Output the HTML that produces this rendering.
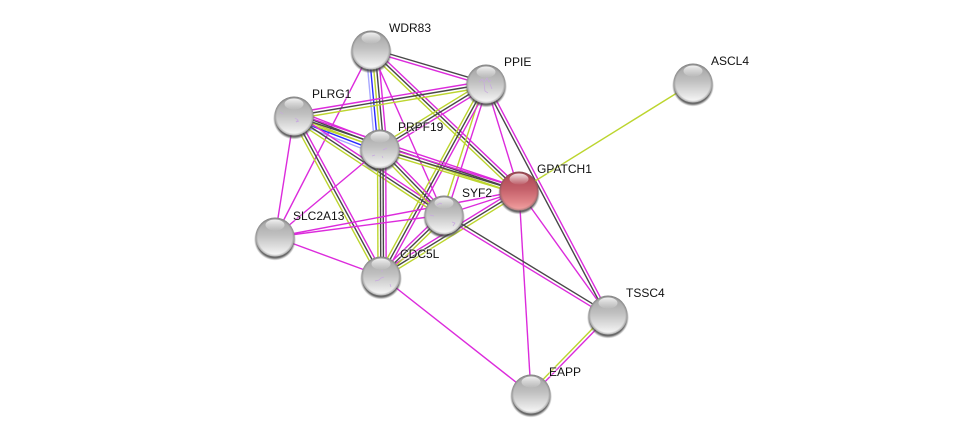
<!DOCTYPE html>
<html><head><meta charset="utf-8"><style>
html,body{margin:0;padding:0;background:#fff}
svg{display:block}
text{font:12px "Liberation Sans",sans-serif;fill:#111;stroke:#fff;stroke-opacity:.4;stroke-width:2px;paint-order:stroke}
.m,.k,.y,.b,.l{fill:none;stroke-width:1.4}
.m{stroke:#dc2bdc}.k{stroke:#484848}.y{stroke:#bcd52e}.b{stroke:#2a2aff}.l{stroke:#a8a8ff}
.q{fill:none;stroke:#c8a8e0;stroke-width:.7}
</style></head><body>
<svg width="975" height="439" viewBox="0 0 975 439" xmlns="http://www.w3.org/2000/svg">
<defs>
<linearGradient id="g" x1="0" y1="0" x2="0" y2="1"><stop offset="0" stop-color="#a0a0a0"/><stop offset=".45" stop-color="#c0c0c0"/><stop offset=".78" stop-color="#e2e2e2"/><stop offset="1" stop-color="#fbfbfb"/></linearGradient>
<linearGradient id="r" x1="0" y1="0" x2="0" y2="1"><stop offset="0" stop-color="#a84450"/><stop offset=".45" stop-color="#c4606a"/><stop offset=".78" stop-color="#e08488"/><stop offset="1" stop-color="#f4a4a4"/></linearGradient>
<radialGradient id="e" cx=".5" cy=".5" r=".5"><stop offset=".88" stop-color="#555" stop-opacity="0"/><stop offset="1" stop-color="#555" stop-opacity=".45"/></radialGradient>
<linearGradient id="h" x1="0" y1="0" x2="0" y2="1"><stop offset="0" stop-color="#fff" stop-opacity=".85"/><stop offset="1" stop-color="#fff" stop-opacity=".05"/></linearGradient>
<radialGradient id="s" cx=".5" cy=".5" r=".5"><stop offset=".88" stop-color="#444" stop-opacity=".8"/><stop offset="1" stop-color="#777" stop-opacity="0"/></radialGradient>
<g id="n"><circle cx="0" cy="2.5" r="21" fill="url(#s)"/><circle r="19.5" fill="url(#g)"/><circle r="19.5" fill="url(#e)"/><ellipse cx="0" cy="-12" rx="9.5" ry="5.5" fill="url(#h)"/></g>
<g id="n2"><circle cx="0" cy="2.5" r="21" fill="url(#s)"/><circle r="19.5" fill="url(#r)"/><circle r="19.5" fill="url(#e)"/><ellipse cx="0" cy="-12" rx="9.5" ry="5.5" fill="url(#h)"/></g>
</defs>

<path class="k" d="M371.4 48.6L486.4 82.6"/><path class="m" d="M370.6 51.4L485.6 85.4"/>
<path class="m" d="M371 50L275 237"/>
<path class="l" d="M366 50L375 149"/><path class="b" d="M369 50L378 149"/><path class="y" d="M372 50L381 149"/><path class="k" d="M375 50L384 149"/><path class="m" d="M378 50L387 149"/>
<path class="m" d="M373 47.8L521 188.8"/><path class="k" d="M371 50L519 191"/><path class="y" d="M369 52.2L517 193.2"/>
<path class="m" d="M371 50L444 215"/>
<path class="m" d="M485.5 81L293.5 113"/><path class="k" d="M486 84L294 116"/><path class="y" d="M486.5 87L294.5 119"/>
<path class="y" d="M484.45 81.45L378.45 146.45"/><path class="k" d="M486 84L380 149"/><path class="m" d="M487.55 86.55L381.55 151.55"/>
<path class="m" d="M486 84L519 191"/>
<path class="m" d="M487.3 83.3L609.3 314.3"/><path class="k" d="M484.7 84.7L606.7 315.7"/>
<path class="y" d="M484 83.4L442 214.4"/><path class="m" d="M488 84.6L446 215.6"/>
<path class="y" d="M483.4 82.6L378.4 274.6"/><path class="k" d="M486 84L381 276"/><path class="m" d="M488.6 85.4L383.6 277.4"/>
<path class="m" d="M296.1 110.4L382.1 143.4"/><path class="k" d="M295.1 113.2L381.1 146.2"/><path class="y" d="M294 116L380 149"/><path class="b" d="M292.9 118.8L378.9 151.8"/><path class="l" d="M291.9 121.6L377.9 154.6"/>
<path class="m" d="M294.95 113.15L519.95 188.15"/><path class="k" d="M294 116L519 191"/><path class="y" d="M293.05 118.85L518.05 193.85"/>
<path class="m" d="M295.65 113.5L445.65 212.5"/><path class="k" d="M294 116L444 215"/><path class="y" d="M292.35 118.5L442.35 217.5"/>
<path class="y" d="M291.4 117.4L378.4 277.4"/><path class="k" d="M294 116L381 276"/><path class="m" d="M296.6 114.6L383.6 274.6"/>
<path class="m" d="M294 116L275 237"/>
<path class="m" d="M380.87 146.15L519.87 188.15"/><path class="k" d="M380 149L519 191"/><path class="y" d="M379.13 151.85L518.13 193.85"/>
<path class="m" d="M382.15 146.9L446.15 212.9"/><path class="k" d="M380 149L444 215"/><path class="y" d="M377.85 151.1L441.85 217.1"/>
<path class="y" d="M377.5 149L378 276"/><path class="k" d="M380.3 149L380.8 276"/><path class="k" d="M383 149L383.5 276"/><path class="m" d="M385.7 149L386.2 276"/>
<path class="m" d="M380 149L275 237"/>
<path class="m" d="M519 191L444 215"/>
<path class="m" d="M517.45 188.5L379.45 273.5"/><path class="k" d="M519 191L381 276"/><path class="y" d="M520.55 193.5L382.55 278.5"/>
<path class="m" d="M519 191L275 237"/>
<path class="m" d="M519 191L608 315"/>
<path class="m" d="M519 191L531 394"/>
<path class="y" d="M519 191L693 83"/>
<path class="m" d="M444 215L275 237"/>
<path class="m" d="M441.95 212.85L378.95 273.85"/><path class="k" d="M444 215L381 276"/><path class="y" d="M446.05 217.15L383.05 278.15"/>
<path class="k" d="M444.8 213.7L608.8 313.7"/><path class="m" d="M443.2 216.3L607.2 316.3"/>
<path class="m" d="M275 237L381 276"/>
<path class="m" d="M381 276L531 394"/>
<path class="y" d="M606.9 313.9L529.9 392.9"/><path class="m" d="M609.1 316L532.1 395"/>

<use href="#n" x="371" y="50"/>
<use href="#n" x="486" y="84"/>
<use href="#n" x="693" y="83"/>
<use href="#n" x="294" y="116"/>
<use href="#n" x="380" y="149"/>
<use href="#n2" x="519" y="191"/>
<use href="#n" x="444" y="215"/>
<use href="#n" x="275" y="237"/>
<use href="#n" x="381" y="276"/>
<use href="#n" x="608" y="315"/>
<use href="#n" x="531" y="394"/>

<path class="q" d="M479 82l3-3 2 3 3-4 2 4 2-2M484 83l1 8 3 2M490 84l2 5"/>
<path class="q" d="M295 118l3 2-2 2 3-1M280 112l3 2"/>
<path class="q" d="M372 156l3-1M383 150l4-2M382 156l1 2"/>
<path class="q" d="M430 215l4 1M437 205l3-2 2 1M452 222l3 1-2 3"/>
<path class="q" d="M375 281l4-1 2-2 3-1M390 284l1 3M382 270v2"/>

<text x="389" y="32">WDR83</text>
<text x="504" y="66">PPIE</text>
<text x="711" y="65">ASCL4</text>
<text x="312" y="98">PLRG1</text>
<text x="398" y="131">PRPF19</text>
<text x="537" y="173">GPATCH1</text>
<text x="462" y="197">SYF2</text>
<text x="293" y="220">SLC2A13</text>
<text x="400" y="258">CDC5L</text>
<text x="626" y="297">TSSC4</text>
<text x="549" y="376">EAPP</text>
</svg>
</body></html>
